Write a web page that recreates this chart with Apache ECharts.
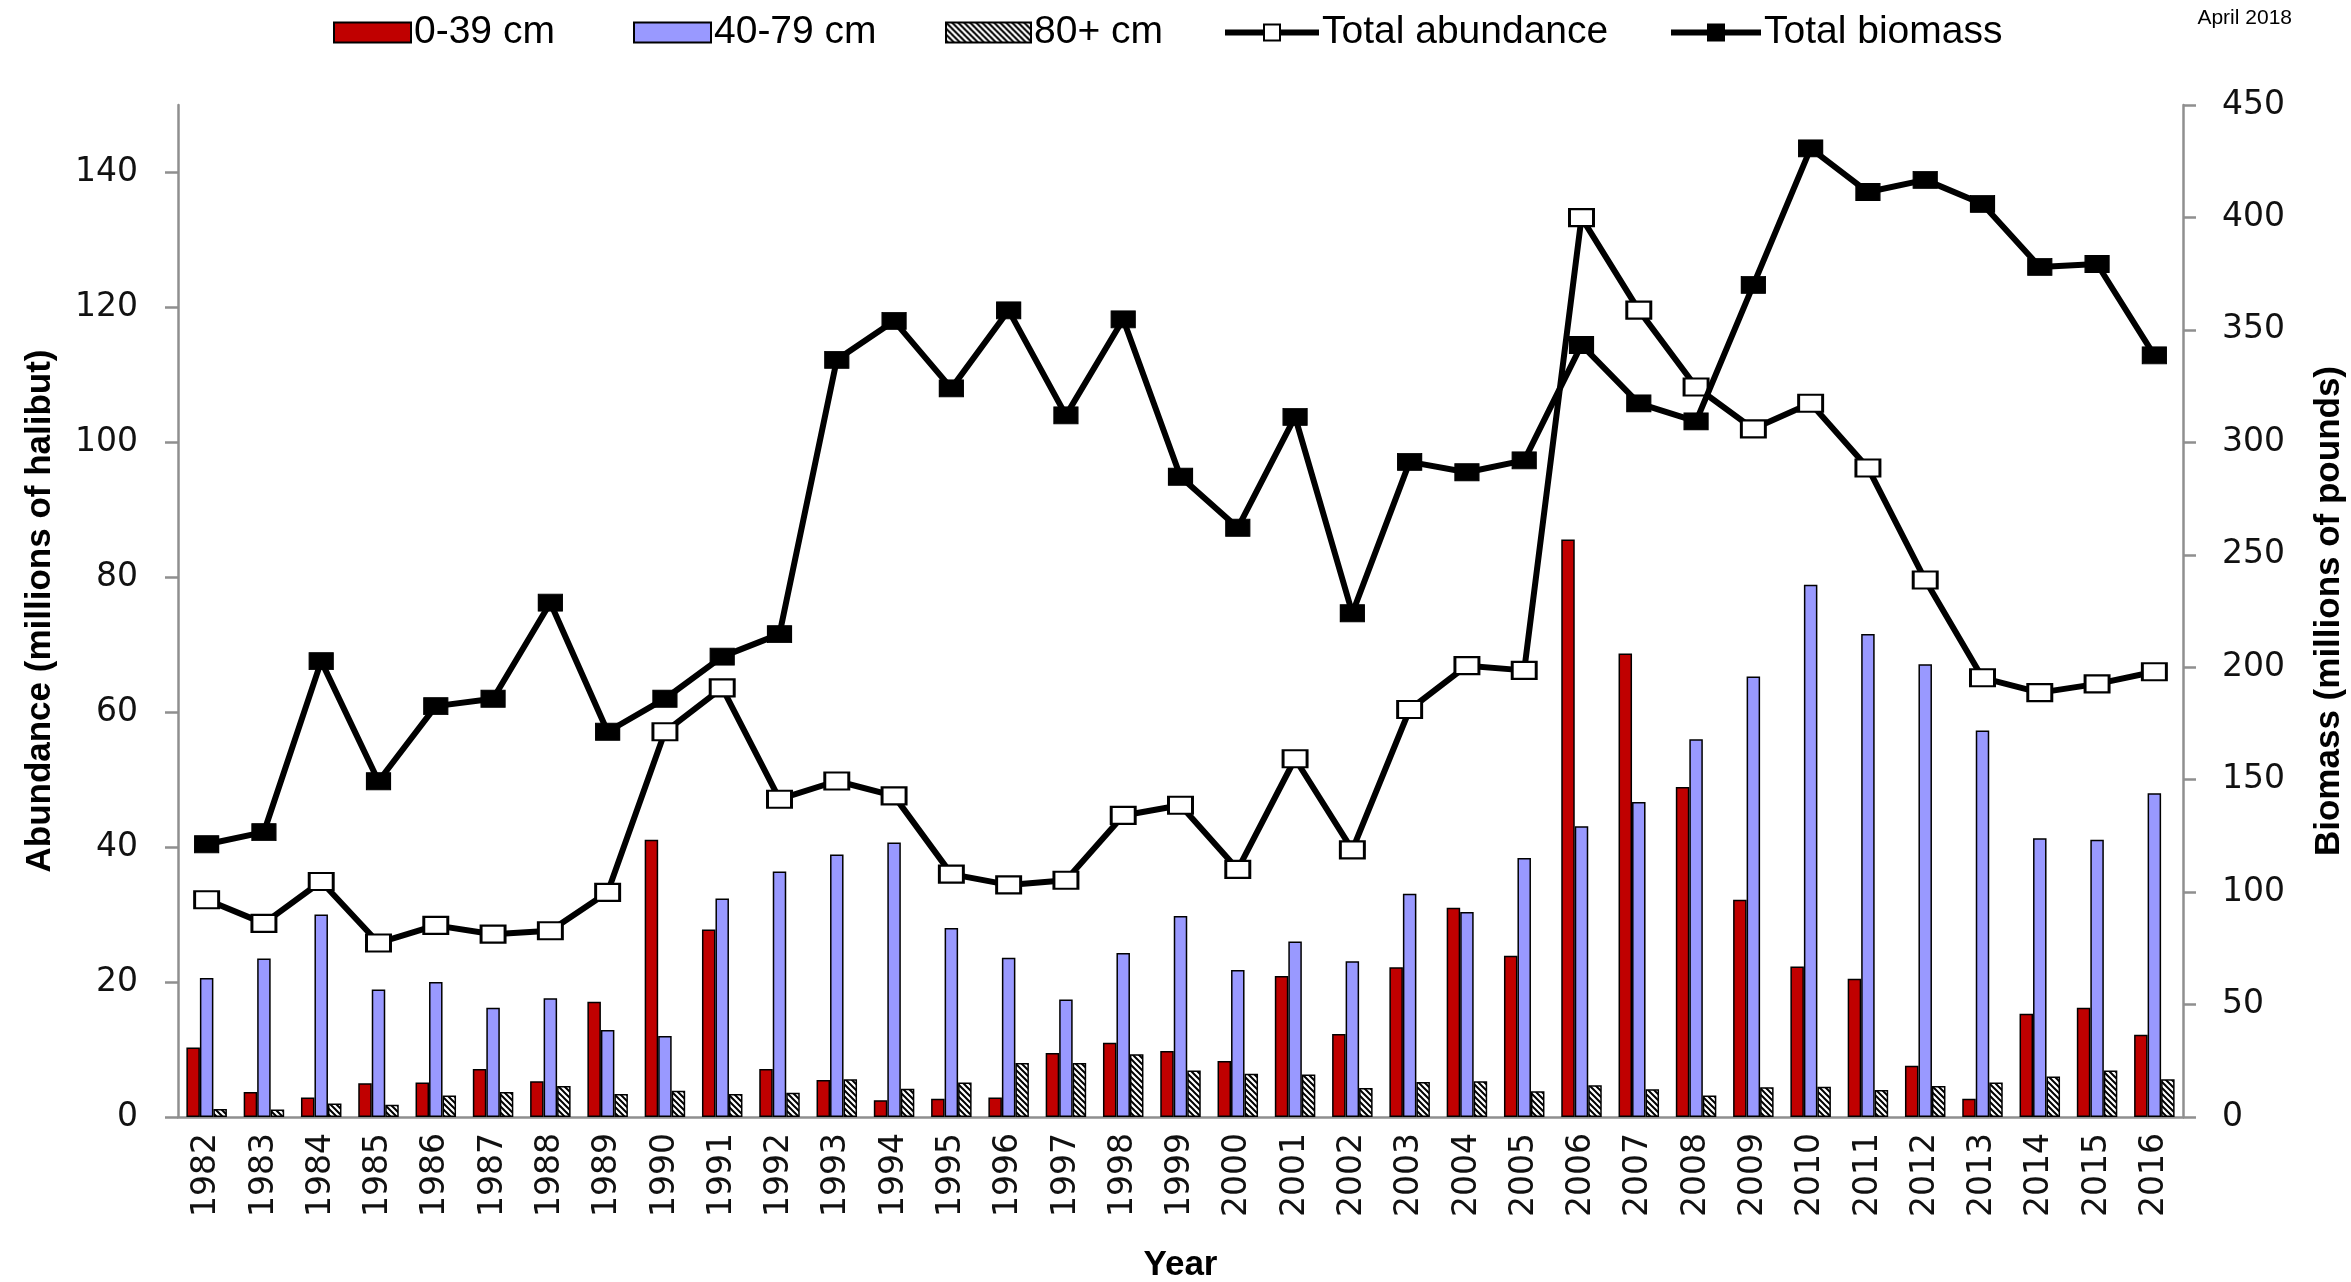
<!DOCTYPE html>
<html><head><meta charset="utf-8">
<script src="https://cdn.jsdelivr.net/npm/echarts@6/dist/echarts.min.js"></script>
<style>html,body{margin:0;padding:0;background:#fff}#c{width:2351px;height:1282px}</style>
</head><body><div id="c"></div>
<script>
const years = ['1982','1983','1984','1985','1986','1987','1988','1989','1990','1991','1992','1993','1994','1995','1996','1997','1998','1999','2000','2001','2002','2003','2004','2005','2006','2007','2008','2009','2010','2011','2012','2013','2014','2015','2016'];
const size0to39 = [10.3,3.7,2.9,5.0,5.1,7.1,5.3,17.1,41.1,27.8,7.1,5.5,2.5,2.7,2.9,9.5,11.0,9.8,8.3,20.9,12.3,22.2,31.0,23.9,85.6,68.7,48.9,32.2,22.3,20.5,7.6,2.7,15.3,16.2,12.2];
const size40to79 = [20.6,23.5,30.0,18.9,20.0,16.2,17.6,12.9,12.0,32.4,36.4,38.9,40.7,28.0,23.6,17.4,24.3,29.8,21.8,26.0,23.1,33.1,30.4,38.4,43.1,46.7,56.0,65.3,78.9,71.6,67.1,57.3,41.3,41.1,48.0];
const size80plus = [1.2,1.1,2.0,1.8,3.2,3.7,4.6,3.4,3.9,3.4,3.6,5.6,4.2,5.1,8.0,8.0,9.3,6.9,6.4,6.3,4.3,5.2,5.3,3.8,4.7,4.1,3.2,4.4,4.5,4.0,4.6,5.1,6.0,6.9,5.6];
const totalAbundance = [32.2,28.7,34.9,25.8,28.4,27.1,27.6,33.3,57.1,63.6,47.1,49.8,47.6,36.0,34.4,35.1,44.7,46.2,36.7,53.1,39.6,60.4,66.9,66.2,133.3,119.6,108.2,102.0,105.8,96.2,79.6,65.1,62.9,64.2,66.0];
const totalBiomass = [121.3,126.7,202.7,149.3,182.7,186.0,228.7,171.3,186.0,204.7,214.7,336.7,354.0,324.0,358.7,312.0,354.7,284.7,262.0,311.3,224.0,291.3,286.7,292.0,343.3,317.3,309.3,370.0,430.7,411.3,416.7,406.0,378.0,379.3,338.7];
const leftTicks = [0,20,40,60,80,100,120,140];
const legendNames = ['0-39 cm','40-79 cm','80+ cm','Total abundance','Total biomass'];

const hatch = document.createElement('canvas');
hatch.width = 6; hatch.height = 6;
(function(){
  const g = hatch.getContext('2d');
  g.fillStyle = '#fff'; g.fillRect(0,0,6,6);
  g.strokeStyle = '#000'; g.lineWidth = 2;
  g.beginPath();
  g.moveTo(-1,-1); g.lineTo(7,7);
  g.moveTo(-4,2); g.lineTo(4,10);
  g.moveTo(2,-4); g.lineTo(10,4);
  g.stroke();
})();

const chart = echarts.init(document.getElementById('c'), null, {renderer:'canvas'});
const axisGray = '#8f8f8f';
const tickFont = {fontFamily:'DejaVu Sans', fontSize:33, color:'#111'};
const nameFont = {fontFamily:'Liberation Sans', fontWeight:'bold', fontSize:35, color:'#000'};
const barBase = {type:'bar', barWidth:13.5, barGap:'0%', xAxisIndex:0, yAxisIndex:0};
const legendLefts = [333, 633, 945, 1222, 1668];
const legendWidths = [77, 77, 85, 94, 90];
const legends = legendNames.map(function(n, i){
  const lg = {
    left:legendLefts[i], top:13, padding:0, itemWidth:legendWidths[i], itemHeight:20, itemGap:0,
    textStyle:{fontFamily:'Liberation Sans', fontSize:39, color:'#000', padding:[0,0,0,-2]},
    data:[i < 3 ? {name:n, icon:'rect'} : n]
  };
  if (i >= 3) lg.lineStyle = {width:6, color:'#000'};
  return lg;
});
chart.setOption({
  animation:false,
  backgroundColor:'#fff',
  legend:legends,
  graphic:[{type:'text', right:59, top:8, style:{text:'April 2018', font:'21px "Liberation Sans"', fill:'#000'}}],
  grid:{left:178, right:168, top:105, bottom:165, outerBoundsMode:'none', containLabel:false},
  xAxis:{
    type:'category', data:years, boundaryGap:true,
    axisLine:{lineStyle:{color:axisGray, width:2.5}},
    axisTick:{interval:0, length:13, lineStyle:{color:axisGray, width:2.5}},
    axisLabel:Object.assign({interval:0, rotate:90, margin:16}, tickFont),
    name:'Year', nameLocation:'middle', nameGap:131, nameTextStyle:nameFont
  },
  yAxis:[{
    type:'value', min:0, max:150, interval:20,
    splitLine:{show:false},
    axisLine:{show:true, lineStyle:{color:axisGray, width:2.5}},
    axisTick:{show:true, length:13, customValues:leftTicks, lineStyle:{color:axisGray, width:2.5}},
    axisLabel:Object.assign({margin:40, customValues:leftTicks}, tickFont),
    name:'Abundance (millions of halibut)', nameLocation:'middle', nameRotate:90, nameGap:120, nameTextStyle:nameFont
  },{
    type:'value', min:0, max:450, interval:50, position:'right',
    splitLine:{show:false},
    axisLine:{show:true, lineStyle:{color:axisGray, width:2.5}},
    axisTick:{show:true, length:13, lineStyle:{color:axisGray, width:2.5}},
    axisLabel:Object.assign({margin:39}, tickFont),
    name:'Biomass (millions of pounds)', nameLocation:'middle', nameRotate:90, nameGap:129, nameTextStyle:nameFont
  }],
  series:[
    Object.assign({name:'0-39 cm', data:size0to39, itemStyle:{color:'#C00000', borderColor:'#000', borderWidth:1.5}}, barBase),
    Object.assign({name:'40-79 cm', data:size40to79, itemStyle:{color:'#9999FF', borderColor:'#000', borderWidth:1.5}}, barBase),
    Object.assign({name:'80+ cm', data:size80plus, itemStyle:{color:{image:hatch, repeat:'repeat'}, borderColor:'#000', borderWidth:1.5}}, barBase),
    {name:'Total abundance', type:'line', yAxisIndex:0, data:totalAbundance, z:5,
      symbol:'rect', symbolSize:[24,17], showAllSymbol:true,
      lineStyle:{color:'#000', width:6},
      itemStyle:{color:'#fff', borderColor:'#000', borderWidth:2.5}},
    {name:'Total biomass', type:'line', yAxisIndex:1, data:totalBiomass, z:6,
      symbol:'rect', symbolSize:[24,17], showAllSymbol:true,
      lineStyle:{color:'#000', width:6},
      itemStyle:{color:'#000', borderColor:'#000', borderWidth:1}}
  ]
});
</script>
</body></html>
